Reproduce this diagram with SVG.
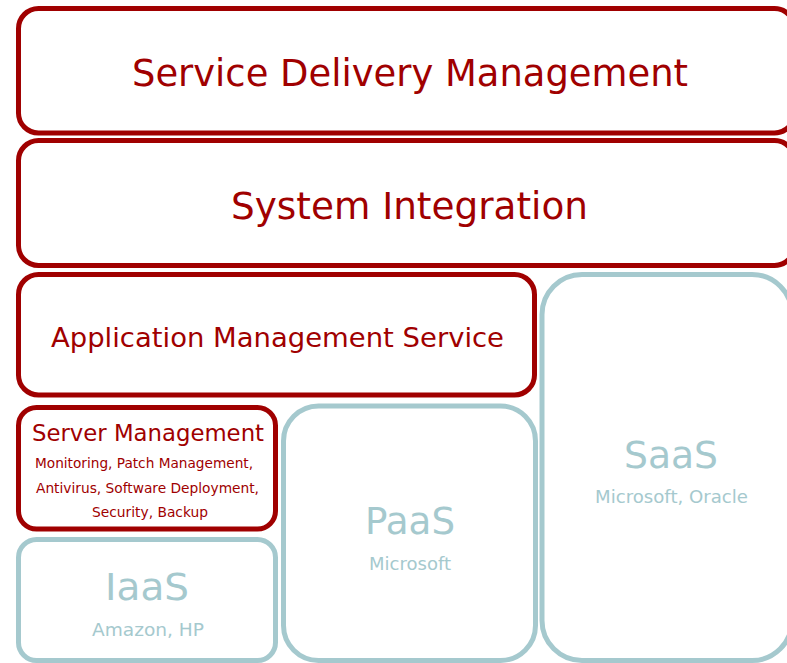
<svg xmlns="http://www.w3.org/2000/svg" width="787" height="663" viewBox="0 0 787 663">
<style>
.r{fill:#fff;stroke:#a00000;stroke-width:5}
.b{fill:#fff;stroke:#a5c9ce;stroke-width:5}
text{font-family:"DejaVu Sans",Verdana,sans-serif;text-anchor:middle}
.rt{fill:#a00000}
.bt{fill:#a5c9ce}
</style>
<g id="sdm"><rect class="r" x="18.5" y="8.5" width="776" height="124.5" rx="20"/><text class="rt" x="410" y="86" font-size="37" textLength="556" lengthAdjust="spacingAndGlyphs">Service Delivery Management</text></g>
<g id="si"><rect class="r" x="18.5" y="140.5" width="776" height="125" rx="20"/><text class="rt" x="409.5" y="219" font-size="37" textLength="357" lengthAdjust="spacingAndGlyphs">System Integration</text></g>
<g id="ams"><rect class="r" x="18.5" y="274.5" width="516" height="120.5" rx="20"/><text class="rt" x="277.5" y="347" font-size="27" textLength="453" lengthAdjust="spacingAndGlyphs">Application Management Service</text></g>
<g id="sm"><rect class="r" x="18.5" y="407.5" width="257" height="121.5" rx="18"/><text class="rt" x="148" y="441" font-size="23" textLength="232" lengthAdjust="spacingAndGlyphs">Server Management</text><text class="rt" x="144" y="468" font-size="13.7" textLength="218" lengthAdjust="spacingAndGlyphs">Monitoring, Patch Management,</text><text class="rt" x="147.5" y="493" font-size="13.7" textLength="223" lengthAdjust="spacingAndGlyphs">Antivirus, Software Deployment,</text><text class="rt" x="150" y="517" font-size="13.7" textLength="116" lengthAdjust="spacingAndGlyphs">Security, Backup</text></g>
<g id="iaas"><rect class="b" x="18.5" y="539.5" width="257" height="121" rx="18"/><text class="bt" x="147" y="600" font-size="37" textLength="84" lengthAdjust="spacingAndGlyphs">IaaS</text><text class="bt" x="148" y="636" font-size="18" textLength="112" lengthAdjust="spacingAndGlyphs">Amazon, HP</text></g>
<g id="paas"><rect class="b" x="283.5" y="406" width="252" height="254.5" rx="35"/><text class="bt" x="410" y="534" font-size="37" textLength="90" lengthAdjust="spacingAndGlyphs">PaaS</text><text class="bt" x="410" y="570" font-size="18" textLength="82" lengthAdjust="spacingAndGlyphs">Microsoft</text></g>
<g id="saas"><rect class="b" x="542" y="274.5" width="250" height="386" rx="40"/><text class="bt" x="671" y="468" font-size="37" textLength="94" lengthAdjust="spacingAndGlyphs">SaaS</text><text class="bt" x="671.5" y="503" font-size="18" textLength="153" lengthAdjust="spacingAndGlyphs">Microsoft, Oracle</text></g>
<g id="connectors"/>
</svg>
